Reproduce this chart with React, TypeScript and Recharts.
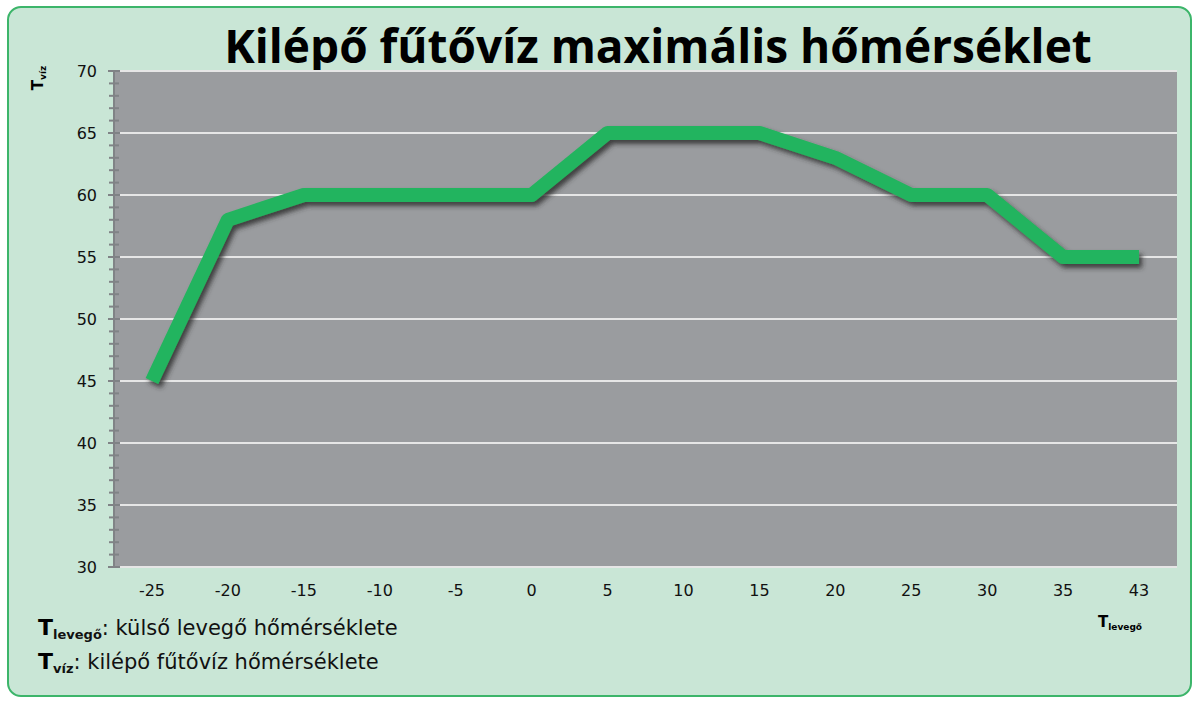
import { LineChart, Line, XAxis, YAxis, CartesianGrid } from 'recharts';

const levego = ['-25', '-20', '-15', '-10', '-5', '0', '5', '10', '15', '20', '25', '30', '35', '43'];
const viz = [45, 58, 60, 60, 60, 60, 65, 65, 65, 63, 60, 60, 55, 55];
const majorTicks = [30, 35, 40, 45, 50, 55, 60, 65, 70];
const allTicks = [
  30, 31, 32, 33, 34, 35, 36, 37, 38, 39, 40, 41, 42, 43, 44, 45, 46, 47, 48, 49, 50,
  51, 52, 53, 54, 55, 56, 57, 58, 59, 60, 61, 62, 63, 64, 65, 66, 67, 68, 69, 70,
];

const data = levego.map((t, i) => ({ t, v: viz[i] }));

const font = '"DejaVu Sans", Verdana, sans-serif';
const TICK_SIZE = 6;
const TICK_MARGIN = 11;

// y tick: crossing line for every value, label only on the major ones
function YTick(props: any) {
  const { x, y, payload } = props;
  const axisX = x + TICK_SIZE + TICK_MARGIN;
  const major = payload.value % 5 === 0;
  return (
    <g>
      <line
        x1={axisX - (major ? 6 : 5)}
        x2={axisX + (major ? 6 : 5)}
        y1={y}
        y2={y}
        stroke="#808386"
        strokeWidth={2}
      />
      {major && (
        <text x={x} y={y} dy="0.355em" textAnchor="end" fill="#111" fontSize={16} fontFamily={font}>
          {payload.value}
        </text>
      )}
    </g>
  );
}

export default function App() {
  return (
    <div style={{ position: 'absolute', left: 0, top: 0, width: 1196, height: 703, fontFamily: font, color: '#111' }}>
      {/* panel */}
      <div
        style={{
          position: 'absolute', left: 7, top: 6, width: 1181, height: 687,
          background: '#c9e6d6', border: '2px solid #3cb56a', borderRadius: 14,
        }}
      />
      <div
        style={{
          position: 'absolute', left: 0, width: 1316, top: 17, textAlign: 'center',
          fontFamily: '"Open Sans", sans-serif', fontWeight: 700, fontSize: 46, lineHeight: '56px', color: '#000',
        }}
      >
        Kilépő fűtővíz maximális hőmérséklet
      </div>
      <div style={{ position: 'absolute', left: 0, top: 0 }}>
        <LineChart width={1196} height={703} data={data} margin={{ top: 71, right: 19, left: 54, bottom: 106 }}>
          <defs>
            <filter id="lineShadow" x="-5%" y="-5%" width="110%" height="120%">
              <feDropShadow dx="3" dy="4" stdDeviation="2.5" floodColor="#2e2e2e" floodOpacity="0.85" />
            </filter>
          </defs>
          <CartesianGrid vertical={false} fill="#9a9c9f" stroke="#e6e6e6" strokeWidth={2} horizontalValues={majorTicks} />
          <XAxis
            dataKey="t"
            scale="band"
            axisLine={false}
            tickLine={false}
            tickSize={6}
            tickMargin={12}
            height={30}
            tick={{ fill: '#111', fontSize: 16, fontFamily: font }}
            interval={0}
          />
          <YAxis
            domain={[30, 70]}
            ticks={allTicks}
            interval={0}
            tickSize={TICK_SIZE}
            tickMargin={TICK_MARGIN}
            width={60}
            axisLine={{ stroke: '#808386', strokeWidth: 2 }}
            tickLine={false}
            tick={YTick}
          />
          <Line
            type="linear"
            dataKey="v"
            stroke="#22b45e"
            strokeWidth={14}
            strokeLinejoin="round"
            dot={false}
            activeDot={false}
            filter="url(#lineShadow)"
            isAnimationActive={false}
          />
        </LineChart>
      </div>
      {/* y axis title */}
      <div
        style={{
          position: 'absolute', left: 38, top: 78, transform: 'translate(-50%, -50%) rotate(-90deg)',
          fontWeight: 700, fontSize: 15, whiteSpace: 'nowrap', color: '#000',
        }}
      >
        T<span style={{ fontSize: 9, position: 'relative', top: 3 }}>víz</span>
      </div>
      {/* x axis title */}
      <div style={{ position: 'absolute', left: 1098, top: 613, fontWeight: 700, fontSize: 15, color: '#000', whiteSpace: 'nowrap' }}>
        T<span style={{ fontSize: 9, position: 'relative', top: 3 }}>levegő</span>
      </div>
      {/* notes */}
      <div style={{ position: 'absolute', left: 38, top: 615, fontSize: 21, whiteSpace: 'nowrap' }}>
        <span style={{ fontWeight: 700, fontSize: 22, color: '#000' }}>T</span>
        <span style={{ fontWeight: 700, fontSize: 13, position: 'relative', top: 4 }}>levegő</span>: külső levegő hőmérséklete
      </div>
      <div style={{ position: 'absolute', left: 38, top: 649, fontSize: 21, whiteSpace: 'nowrap' }}>
        <span style={{ fontWeight: 700, fontSize: 22, color: '#000' }}>T</span>
        <span style={{ fontWeight: 700, fontSize: 13, position: 'relative', top: 4 }}>víz</span>: kilépő fűtővíz hőmérséklete
      </div>
    </div>
  );
}
